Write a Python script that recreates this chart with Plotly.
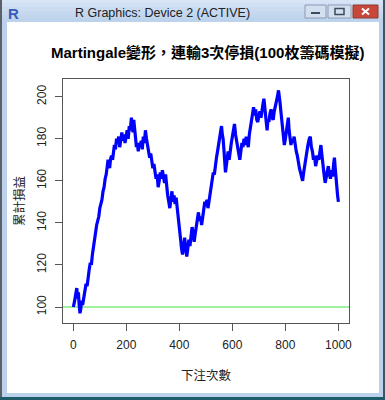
import plotly.graph_objects as go

# ---- data ----
bet_no = [0, 1, 5, 9, 13, 16, 19, 22, 25, 28, 31, 35, 39, 44, 48, 52, 56, 60, 64, 68, 72, 76, 80, 84, 88, 92, 96,
          100, 104, 108, 112, 116, 120, 124, 128, 131, 134, 137, 140, 144, 148, 151, 155, 159, 163, 167, 171, 175,
          179, 183, 187, 191, 195, 199, 203, 207, 211, 215, 219, 222, 225, 228, 231, 235, 238, 241, 245, 248, 252,
          256, 260, 264, 268, 272, 276, 280, 284, 288, 292, 296, 300, 304, 308, 312, 316, 320, 324, 328, 332, 336,
          340, 344, 348, 352, 356, 360, 364, 368, 372, 376, 380, 384, 388, 392, 396, 400, 404, 408, 412, 416, 420,
          424, 428, 432, 436, 440, 444, 448, 452, 456, 460, 464, 468, 472, 476, 480, 484, 488, 492, 496, 500, 504,
          508, 512, 516, 520, 524, 528, 532, 536, 540, 544, 548, 552, 556, 559, 562, 565, 568, 571, 574, 577, 580,
          584, 588, 592, 596, 600, 604, 608, 612, 616, 620, 624, 628, 632, 636, 640, 644, 648, 652, 656, 660, 664,
          668, 672, 676, 680, 684, 688, 692, 696, 700, 704, 708, 712, 716, 719, 722, 725, 728, 731, 734, 738, 742,
          746, 750, 754, 758, 762, 766, 770, 774, 777, 780, 783, 786, 789, 792, 796, 800, 804, 808, 811, 814, 818,
          821, 825, 829, 833, 837, 841, 845, 849, 853, 857, 861, 865, 869, 873, 877, 881, 885, 890, 894, 898, 902,
          906, 910, 914, 918, 922, 926, 930, 934, 938, 942, 946, 950, 954, 958, 962, 966, 970, 974, 978, 982, 985,
          988, 991, 994, 997, 1000]
balance = [100, 101, 103, 106, 109, 104, 107, 101, 97, 99, 103, 101, 105, 108, 111, 110, 115, 118, 121, 120, 125,
           129, 131, 134, 139, 141, 143, 147, 149, 151, 155, 157, 161, 163, 167, 170, 168, 166, 170, 172, 170, 175,
           177, 175, 180, 178, 181, 176, 180, 183, 179, 182, 178, 181, 184, 180, 186, 184, 190, 187, 183, 189, 186,
           180, 176, 178, 174, 178, 176, 179, 175, 181, 178, 184, 180, 176, 174, 171, 173, 169, 166, 168, 164, 161,
           163, 157, 160, 164, 161, 165, 162, 159, 163, 157, 153, 150, 147, 151, 155, 150, 153, 149, 152, 147, 141,
           137, 133, 128, 125, 129, 133, 128, 124, 128, 132, 129, 135, 138, 135, 131, 135, 139, 142, 145, 141, 143,
           139, 142, 147, 150, 148, 151, 147, 150, 155, 158, 160, 164, 163, 168, 171, 174, 178, 181, 183, 186, 182,
           180, 175, 170, 164, 167, 171, 174, 170, 175, 178, 181, 184, 187, 182, 179, 176, 171, 170, 174, 178, 176,
           180, 177, 181, 179, 176, 182, 186, 190, 193, 195, 191, 194, 189, 188, 191, 193, 190, 195, 197, 199, 195,
           191, 187, 184, 189, 188, 192, 194, 190, 189, 193, 195, 197, 200, 203, 201, 197, 193, 190, 185, 181, 177,
           180, 185, 188, 190, 184, 181, 177, 180, 178, 181, 176, 174, 172, 168, 166, 164, 162, 160, 164, 168, 171,
           174, 177, 180, 181, 176, 174, 170, 172, 167, 169, 172, 170, 174, 177, 172, 166, 163, 159, 162, 164, 167,
           163, 161, 165, 162, 168, 171, 166, 160, 156, 153, 150]
baseline = 100
x_ticks = [0, 200, 400, 600, 800, 1000]
y_ticks = [100, 120, 140, 160, 180, 200]
title_text = "Martingale變形，連輸3次停損(100枚籌碼模擬)"
x_title = "下注次數"
y_title = "累計損益"
window_title = "R Graphics: Device 2 (ACTIVE)"

# ---- layout geometry (pixels) ----
W, H = 385, 400
ML, MR, MT, MB = 63, 36, 79, 77
PW, PH = W - ML - MR, H - MT - MB


def X(px):
    return (px - ML) / PW


def Y(py):
    return (H - MB - py) / PH


FONT = "Arial, 'Liberation Sans', 'Noto Sans CJK TC', sans-serif"
CJK = "'Noto Sans CJK TC', 'Noto Sans CJK SC', sans-serif"

fig = go.Figure()
fig.add_trace(go.Scatter(x=bet_no, y=balance, mode="lines",
                         line=dict(color="#0000ff", width=3.2), showlegend=False, hoverinfo="skip"))

shapes = []


def rect(x0, y0, x1, y1, fill, line=None, lw=0):
    shapes.append(dict(type="rect", xref="paper", yref="paper", x0=X(x0), x1=X(x1), y0=Y(y1), y1=Y(y0),
                       fillcolor=fill, line=dict(color=line or fill, width=lw), layer="below"))


def seg(x0, y0, x1, y1, color, lw):
    shapes.append(dict(type="line", xref="paper", yref="paper", x0=X(x0), x1=X(x1), y0=Y(y0), y1=Y(y1),
                       line=dict(color=color, width=lw), layer="above"))


# window frame
rect(0, 0, W, H, "#bcd2ec")
bands = ["#d6e4f5", "#d1e0f3", "#cbdcf1", "#c6d8ef", "#c1d5ed", "#bdd2ec"]
for i, c in enumerate(bands):
    rect(0, i * 3.7, W, (i + 1) * 3.7, c)
rect(7, 22, 379, 393, "#ffffff")
rect(0, 0, 2, H, "#5b6169")
rect(383, 0, W, H, "#46525e")
rect(0, 397, W, H, "#1e5b6b")
# buttons
rect(305, 5, 326, 18, "#d3dfee", "#8a9cb5", 1)
rect(328, 5, 351, 18, "#d3dfee", "#8a9cb5", 1)
rect(353, 5, 378, 18, "#c8473b", "#8e3a33", 1)
rect(311, 12, 320, 14, "#3b4a5e")
shapes.append(dict(type="rect", xref="paper", yref="paper", x0=X(335), x1=X(344), y0=Y(14.5), y1=Y(8.5),
                   line=dict(color="#3b4a5e", width=1.5), fillcolor="rgba(0,0,0,0)"))
seg(362, 8.5, 369, 14.5, "#ffffff", 2)
seg(362, 14.5, 369, 8.5, "#ffffff", 2)

# green baseline across plot area
shapes.append(dict(type="line", xref="paper", yref="y", x0=0, x1=1, y0=baseline, y1=baseline,
                   line=dict(color="#3ee63e", width=1), layer="below"))


def ann(text, px, py, size, family, color, angle=0):
    return dict(text=text, x=X(px), y=Y(py), xref="paper", yref="paper", showarrow=False,
                xanchor="center", yanchor="middle", textangle=angle,
                font=dict(family=family, size=size, color=color))


annotations = [
    ann(window_title, 162, 13, 12.5, "'Liberation Sans', Arial, sans-serif", "#222222"),
    ann("<b>R</b>", 13, 13, 15, "'Liberation Sans', Arial, sans-serif", "#3a5cb8"),
    ann("<b>" + title_text + "</b>", 207, 52, 15, FONT, "#000000"),
    ann(x_title, 206, 374, 12.5, CJK, "#222222"),
    ann(y_title, 18, 201, 12.5, CJK, "#222222", -90),
]

fig.update_layout(
    width=W, height=H, autosize=False, margin=dict(l=ML, r=MR, t=MT, b=MB, pad=0, autoexpand=False),
    paper_bgcolor="#ffffff", plot_bgcolor="rgba(0,0,0,0)",
    shapes=shapes, annotations=annotations, showlegend=False,
    xaxis=dict(range=[-39, 1040], tickvals=x_ticks, ticktext=[str(v) for v in x_ticks], automargin=False,
               showgrid=False, zeroline=False, showline=True, linecolor="#555555", linewidth=1, mirror=True,
               ticks="outside", ticklen=7, tickcolor="#555555", ticklabelstandoff=4,
               tickfont=dict(family=FONT, size=12, color="#222222")),
    yaxis=dict(range=[92.4, 208.4], tickvals=y_ticks, ticktext=[str(v) for v in y_ticks], automargin=False,
               showgrid=False, zeroline=False, showline=True, linecolor="#555555", linewidth=1, mirror=True,
               ticks="outside", ticklen=7, tickcolor="#555555", tickangle=-90, ticklabelstandoff=4,
               tickfont=dict(family=FONT, size=12, color="#222222")),
)

fig.write_html("out.html", config={"responsive": False, "displayModeBar": False, "staticPlot": True},
               post_script="document.body.style.margin='0';document.body.style.padding='0';"
                           "document.body.style.overflow='hidden';")
